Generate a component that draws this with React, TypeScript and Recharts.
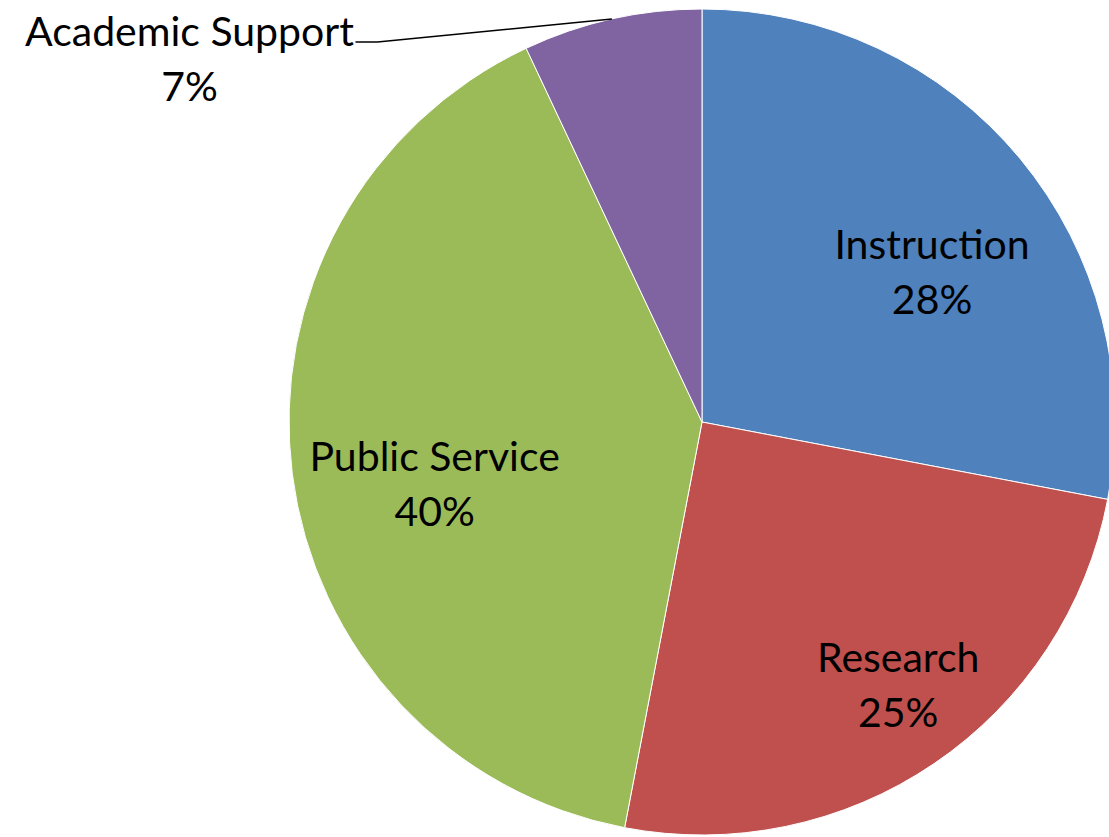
import React from 'react';
import { PieChart, Pie, Cell } from 'recharts';

const categories = ['Instruction', 'Research', 'Public Service', 'Academic Support'];
const shares = [28, 25, 40, 7];

const COLORS = [
  '#4f81bd', // blue
  '#c0504d', // red
  '#9bbb59', // green
  '#8064a2', // purple
];

const data = categories.map((name, i) => ({ name, value: shares[i] }));

const RAD = Math.PI / 180;
const FONT = 'Lato, "Open Sans", sans-serif';
const FONT_SIZE = 41;
const LINE_GAP = 55;

// best-fit style placement: radius as a fraction of the pie, plus a small angle nudge
const INSIDE: Record<string, { r: number; da: number }> = {
  Instruction: { r: 0.665, da: -6.5 },
  Research: { r: 0.795, da: 2.5 },
  'Public Service': { r: 0.665, da: 6 },
};

function renderLabel(props: any) {
  const { cx, cy, midAngle, outerRadius, percent, name } = props;
  const pct = `${Math.round(percent * 100)}%`;
  const place = INSIDE[name];
  if (place) {
    const a = (midAngle + place.da) * RAD;
    const x = cx + outerRadius * place.r * Math.cos(a);
    const y = cy - outerRadius * place.r * Math.sin(a);
    return (
      <text x={x} y={y} textAnchor="middle" fill="#000" fontFamily={FONT} fontSize={FONT_SIZE}>
        <tspan x={x} dy={-LINE_GAP / 2 + 14}>{name}</tspan>
        <tspan x={x} dy={LINE_GAP}>{pct}</tspan>
      </text>
    );
  }
  // outside label with a leader line to the slice edge
  const a = midAngle * RAD;
  const ex = cx + outerRadius * Math.cos(a);
  const ey = cy - outerRadius * Math.sin(a);
  const lx = cx - outerRadius * 0.81;
  const ly = ey + 23;
  const tx = lx - 178;
  return (
    <g>
      <polyline points={`${lx - 12},${ly} ${lx + 10},${ly} ${ex},${ey}`} fill="none" stroke="#000" strokeWidth={1.5} />
      <text x={tx} y={ly} textAnchor="middle" fill="#000" fontFamily={FONT} fontSize={FONT_SIZE}>
        <tspan x={tx} dy={4}>{name}</tspan>
        <tspan x={tx} dy={LINE_GAP}>{pct}</tspan>
      </text>
    </g>
  );
}

export default function App() {
  return (
    <div style={{ width: 1109, height: 837, background: '#fff' }}>
      <style>{'body{margin:0}'}</style>
      <PieChart width={1109} height={837} margin={{ top: 0, right: 0, bottom: 0, left: 0 }}>
        <Pie
          data={data}
          dataKey="value"
          nameKey="name"
          cx={702}
          cy={422}
          outerRadius={413}
          startAngle={90}
          endAngle={-270}
          stroke="#fff"
          strokeWidth={1}
          label={renderLabel}
          labelLine={false}
          isAnimationActive={false}
        >
          {data.map((d, i) => (
            <Cell key={d.name} fill={COLORS[i % COLORS.length]} />
          ))}
        </Pie>
      </PieChart>
    </div>
  );
}
